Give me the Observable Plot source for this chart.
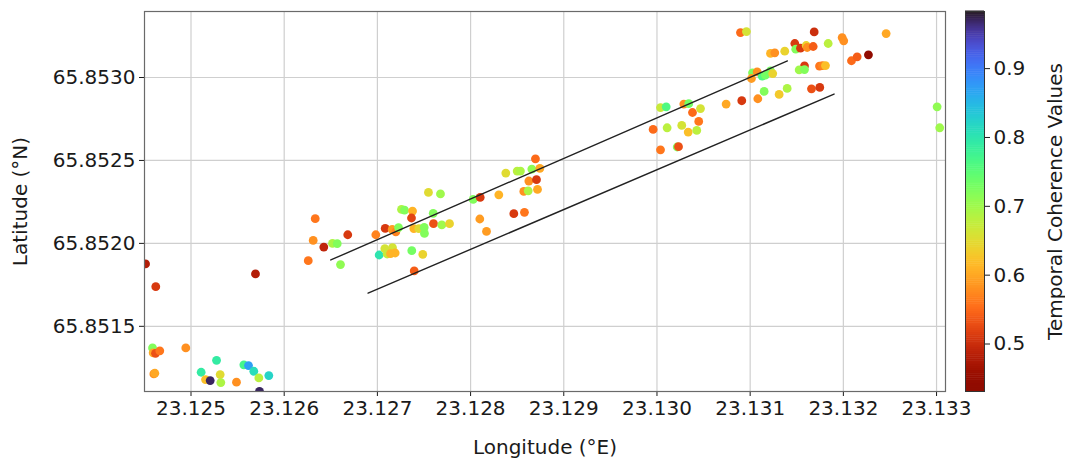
<!DOCTYPE html>
<html>
<head>
<meta charset="utf-8">
<script src="https://cdn.jsdelivr.net/npm/d3@7"></script>
<script src="https://cdn.jsdelivr.net/npm/@observablehq/plot@0.6"></script>
<style>
  html, body { margin: 0; padding: 0; background: #ffffff; }
  #chart { position: relative; width: 1065px; height: 462px; }
  #chart svg { position: absolute; left: 0; top: 0; }
</style>
</head>
<body>
<div id="chart"></div>
<script>
// Longitude (°E) of each point
const lons = [
  23.124512, 23.124622, 23.125692, 23.126258, 23.124587, 23.124594, 23.124619, 23.124665,
  23.124944, 23.124601, 23.124612, 23.125274, 23.125109, 23.125156, 23.125206, 23.125313,
  23.125320, 23.125488, 23.125567, 23.125617, 23.125674, 23.125728, 23.125835, 23.125735,
  23.126333, 23.126311, 23.126425, 23.126518, 23.126569, 23.126604, 23.126682, 23.126983,
  23.127084, 23.127159, 23.127198, 23.127227, 23.127019, 23.127080, 23.127105, 23.127162,
  23.127141, 23.127191, 23.127259, 23.127291, 23.127377, 23.127366, 23.127391, 23.127444,
  23.127502, 23.127505, 23.127599, 23.127602, 23.127691, 23.127774, 23.127548, 23.127677,
  23.127369, 23.127487, 23.127395, 23.128028, 23.128103, 23.128099, 23.128171, 23.128303,
  23.128378, 23.128500, 23.128535, 23.128657, 23.128743, 23.128625, 23.128707, 23.128571,
  23.128618, 23.128718, 23.128464, 23.128578, 23.128696, 23.129959, 23.130109, 23.130266,
  23.130335, 23.130427, 23.130038, 23.130217, 23.130231, 23.130038, 23.130099, 23.130288,
  23.130341, 23.130381, 23.130467, 23.130448, 23.130742, 23.130910, 23.131082, 23.131150,
  23.131311, 23.131397, 23.131658, 23.131747, 23.130896, 23.130960, 23.131025, 23.131075,
  23.131014, 23.131129, 23.131164, 23.131218, 23.131242, 23.131218, 23.131264, 23.131371,
  23.131479, 23.131489, 23.131540, 23.131601, 23.131612, 23.131676, 23.131687, 23.131837,
  23.131583, 23.131526, 23.131583, 23.131744, 23.131776, 23.131808, 23.131987, 23.132004,
  23.132087, 23.132148, 23.132269, 23.132459, 23.133006, 23.133034
];
// Latitude (°N) of each point
const lats = [
  65.851876, 65.851739, 65.851816, 65.851896, 65.851370, 65.851340, 65.851337, 65.851352,
  65.851370, 65.851213, 65.851217, 65.851295, 65.851223, 65.851179, 65.851173, 65.851209,
  65.851161, 65.851163, 65.851268, 65.851263, 65.851229, 65.851189, 65.851203, 65.851108,
  65.852149, 65.852018, 65.851978, 65.852000, 65.851998, 65.851872, 65.852052, 65.852052,
  65.852090, 65.852084, 65.852070, 65.852095, 65.851930, 65.851968, 65.851936, 65.851974,
  65.851938, 65.851942, 65.852205, 65.852201, 65.852195, 65.852153, 65.852089, 65.852089,
  65.852096, 65.852060, 65.852181, 65.852119, 65.852111, 65.852119, 65.852307, 65.852298,
  65.851956, 65.851934, 65.851834, 65.852265, 65.852277, 65.852147, 65.852072, 65.852293,
  65.852424, 65.852436, 65.852436, 65.852448, 65.852452, 65.852376, 65.852384, 65.852313,
  65.852317, 65.852325, 65.852179, 65.852187, 65.852510, 65.852687, 65.852697, 65.852711,
  65.852671, 65.852681, 65.852564, 65.852581, 65.852583, 65.852819, 65.852823, 65.852840,
  65.852842, 65.852789, 65.852813, 65.852735, 65.852840, 65.852860, 65.852872, 65.852916,
  65.852898, 65.852934, 65.852932, 65.852940, 65.853271, 65.853277, 65.853028, 65.853034,
  65.852994, 65.853008, 65.853014, 65.853040, 65.853024, 65.853145, 65.853149, 65.853159,
  65.853205, 65.853171, 65.853177, 65.853193, 65.853181, 65.853187, 65.853275, 65.853205,
  65.853070, 65.853046, 65.853048, 65.853069, 65.853072, 65.853072, 65.853241, 65.853221,
  65.853101, 65.853125, 65.853137, 65.853265, 65.852823, 65.852697
];
// Temporal coherence of each point
const coherence = [
  0.48, 0.51, 0.48, 0.56, 0.72, 0.60, 0.53, 0.56,
  0.58, 0.58, 0.60, 0.79, 0.79, 0.62, 0.97, 0.65,
  0.69, 0.58, 0.77, 0.87, 0.81, 0.68, 0.82, 0.97,
  0.56, 0.58, 0.49, 0.69, 0.72, 0.71, 0.51, 0.57,
  0.51, 0.59, 0.57, 0.72, 0.80, 0.66, 0.67, 0.66,
  0.61, 0.61, 0.69, 0.72, 0.61, 0.52, 0.61, 0.65,
  0.72, 0.72, 0.72, 0.53, 0.70, 0.64, 0.65, 0.70,
  0.73, 0.64, 0.54, 0.72, 0.51, 0.59, 0.59, 0.61,
  0.65, 0.68, 0.69, 0.71, 0.60, 0.58, 0.51, 0.58,
  0.69, 0.60, 0.51, 0.56, 0.55, 0.55, 0.68, 0.66,
  0.62, 0.68, 0.56, 0.72, 0.53, 0.67, 0.76, 0.58,
  0.73, 0.55, 0.66, 0.56, 0.60, 0.51, 0.58, 0.72,
  0.63, 0.69, 0.53, 0.51, 0.55, 0.66, 0.72, 0.58,
  0.59, 0.76, 0.73, 0.73, 0.64, 0.61, 0.58, 0.64,
  0.51, 0.72, 0.51, 0.64, 0.58, 0.54, 0.50, 0.68,
  0.51, 0.70, 0.72, 0.56, 0.57, 0.62, 0.58, 0.58,
  0.55, 0.54, 0.44, 0.60, 0.71, 0.70
];
// Two reference lines (endpoints)
const line1Lon = [23.1265, 23.1314];
const line1Lat = [65.8519, 65.8531];
const line2Lon = [23.1269, 23.1319];
const line2Lat = [65.8517, 65.8529];
// Ticks
const xTicks = [23.125, 23.126, 23.127, 23.128, 23.129, 23.130, 23.131, 23.132, 23.133];
const yTicks = [65.8515, 65.8520, 65.8525, 65.8530];
const cbTicks = [0.5, 0.6, 0.7, 0.8, 0.9];
const colorDomain = [0.431, 0.983];

const points = lons.map((lon, i) => ({lon, lat: lats[i], v: coherence[i]}));
const line1 = line1Lon.map((lon, i) => ({lon, lat: line1Lat[i]}));
const line2 = line2Lon.map((lon, i) => ({lon, lat: line2Lat[i]}));

const font = {fontFamily: "DejaVu Sans", fontSize: "20px", color: "#1a1a1a", background: "transparent", overflow: "visible"};
const colorOpts = {type: "linear", scheme: "turbo", reverse: true, domain: colorDomain};

const main = Plot.plot({
  width: 1065, height: 462,
  marginLeft: 144, marginRight: 120, marginTop: 11, marginBottom: 71,
  style: font,
  x: {domain: [23.124501, 23.133096], ticks: xTicks, tickFormat: d3.format(".3f"),
      label: "Longitude (°E)", labelAnchor: "center", labelArrow: "none", labelOffset: 62,
      tickSize: 5, tickPadding: 4},
  y: {domain: [65.851107, 65.853398], ticks: yTicks, tickFormat: d3.format(".4f"),
      label: "Latitude (°N)", labelAnchor: "center", labelArrow: "none", labelOffset: 132,
      tickSize: 5, tickPadding: 4},
  color: colorOpts,
  marks: [
    Plot.gridX(xTicks, {stroke: "#cfcfcf", strokeOpacity: 1, strokeWidth: 1.2}),
    Plot.gridY(yTicks, {stroke: "#cfcfcf", strokeOpacity: 1, strokeWidth: 1.2}),
    Plot.dot(points, {x: "lon", y: "lat", fill: "v", r: 4.4, clip: true}),
    Plot.line(line1, {x: "lon", y: "lat", stroke: "#222", strokeWidth: 1.4}),
    Plot.line(line2, {x: "lon", y: "lat", stroke: "#222", strokeWidth: 1.4}),
    Plot.frame({stroke: "#6a6a6a", strokeWidth: 1.2})
  ]
});

// Colorbar
const nSteps = 200;
const step = (colorDomain[1] - colorDomain[0]) / nSteps;
const cbData = d3.range(nSteps).map(i => ({
  y1: colorDomain[0] + i * step,
  y2: colorDomain[0] + (i + 1) * step,
  v: colorDomain[0] + (i + 0.5) * step
}));

const cbar = Plot.plot({
  width: 1065, height: 462,
  marginLeft: 965, marginRight: 81, marginTop: 11, marginBottom: 71,
  style: font,
  x: {domain: [0, 1], axis: null},
  y: {domain: colorDomain, ticks: cbTicks, tickFormat: d3.format(".1f"),
      axis: "right", label: "Temporal Coherence Values", labelAnchor: "center",
      labelArrow: "none", labelOffset: 77, tickSize: 5, tickPadding: 4},
  color: colorOpts,
  marks: [
    Plot.rect(cbData, {x1: 0, x2: 1, y1: "y1", y2: "y2", fill: "v", inset: 0, insetTop: -0.5}),
    Plot.frame({stroke: "#333", strokeWidth: 1})
  ]
});

const el = document.getElementById("chart");
el.appendChild(main);
el.appendChild(cbar);
</script>
</body>
</html>
